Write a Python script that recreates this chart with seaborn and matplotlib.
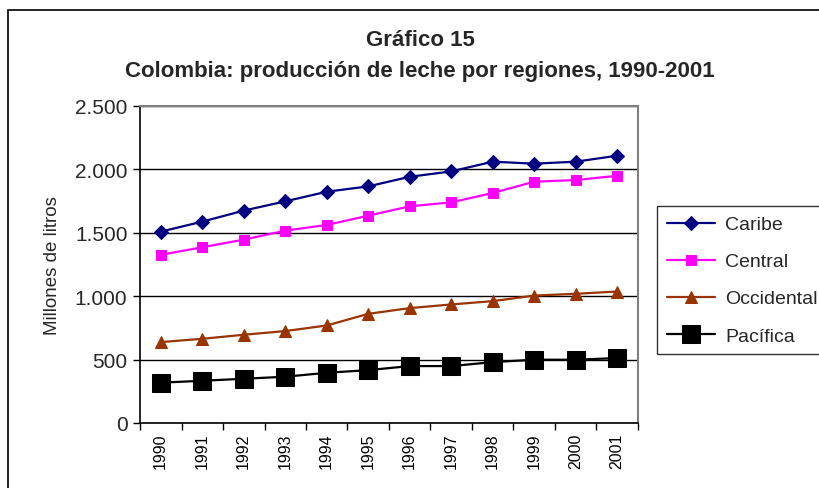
import matplotlib
matplotlib.use("Agg")
import matplotlib.pyplot as plt
import seaborn as sns
import pandas as pd
from matplotlib.patches import Rectangle
from matplotlib.ticker import FuncFormatter, FixedLocator

years = ["1990", "1991", "1992", "1993", "1994", "1995", "1996", "1997", "1998", "1999", "2000", "2001"]
caribe = [1509, 1588, 1675, 1748, 1824, 1866, 1942, 1984, 2061, 2045, 2061, 2108]
central = [1326, 1386, 1446, 1517, 1562, 1635, 1709, 1740, 1814, 1903, 1916, 1950]
occidental = [638, 664, 696, 725, 769, 861, 906, 935, 961, 1005, 1019, 1037]
pacifica = [318, 333, 349, 365, 396, 417, 449, 449, 480, 499, 499, 512]

series = ["Caribe", "Central", "Occidental", "Pacífica"]
values = [caribe, central, occidental, pacifica]
colors = ["#000080", "#FF00FF", "#993300", "#000000"]
markers = ["D", "s", "^", "s"]
msizes = [7, 7, 8, 12.5]

sns.set_style("white")
plt.rcParams['font.family'] = ['Liberation Sans', 'DejaVu Sans']

fig = plt.figure(figsize=(8.19, 4.89), dpi=100)
ax = fig.add_axes([140/819, 1-424/489, (638-140)/819, (424-107)/489])

rows = []
for name, vals in zip(series, values):
    for i, v in enumerate(vals):
        rows.append({"pos": i, "year": years[i], "serie": name, "valor": v})
df = pd.DataFrame(rows)

for name, c, m, ms in zip(series, colors, markers, msizes):
    sub = df[df["serie"] == name]
    sns.lineplot(data=sub, x="pos", y="valor", ax=ax, color=c, marker=m,
                 markersize=ms, markeredgecolor=c, markerfacecolor=c,
                 linewidth=1.6, label=name, legend=False)

ax.set_xlim(-0.5, 11.5)
ax.set_ylim(0, 2500)
ax.set_yticks([0, 500, 1000, 1500, 2000, 2500])
ax.yaxis.set_major_formatter(FuncFormatter(lambda v, p: f"{int(v):,}".replace(",", ".")))
ax.yaxis.grid(True, color="black", linewidth=1)
ax.xaxis.grid(False)
ax.set_xticks(range(len(years)))
ax.set_xticklabels(years, rotation=90, fontsize=11.5)
ax.xaxis.set_minor_locator(FixedLocator([i - 0.5 for i in range(len(years) + 1)]))
ax.tick_params(axis="x", which="major", length=0, pad=7, colors="black")
ax.tick_params(axis="x", which="minor", length=5, width=1, direction="out", bottom=True, color="black")
ax.tick_params(axis="y", length=5, width=1, direction="out", left=True, labelsize=15, pad=4, color="black")
ax.set_xlabel("")
ax.set_ylabel("Millones de litros", fontsize=13.5, labelpad=10)

for s in ["left", "bottom"]:
    ax.spines[s].set_color("black")
    ax.spines[s].set_linewidth(1.2)
for s in ["top", "right"]:
    ax.spines[s].set_visible(True)
    ax.spines[s].set_color("#808080")
    ax.spines[s].set_linewidth(1.5)

fig.text(0.513, 1-40/489, "Gráfico 15", ha="center", va="center", fontsize=16, fontweight="bold")
fig.text(0.513, 1-72/489, "Colombia: producción de leche por regiones, 1990-2001",
         ha="center", va="center", fontsize=16, fontweight="bold")

handles, labels = ax.get_legend_handles_labels()
leg = fig.legend(handles, labels, loc="upper left", bbox_to_anchor=(657/819, 1-207/489),
                 fontsize=14, frameon=True, fancybox=False, edgecolor="black",
                 handlelength=2.5, handletextpad=0.5, borderpad=0.5, labelspacing=1.0,
                 borderaxespad=0)
leg.get_frame().set_linewidth(1)

fig.patches.append(Rectangle((7.5/819, -0.1), 1.2, 1.1 - 11/489, transform=fig.transFigure,
                             fill=False, edgecolor="black", linewidth=1.2))

fig.savefig("out.png", dpi=100)
